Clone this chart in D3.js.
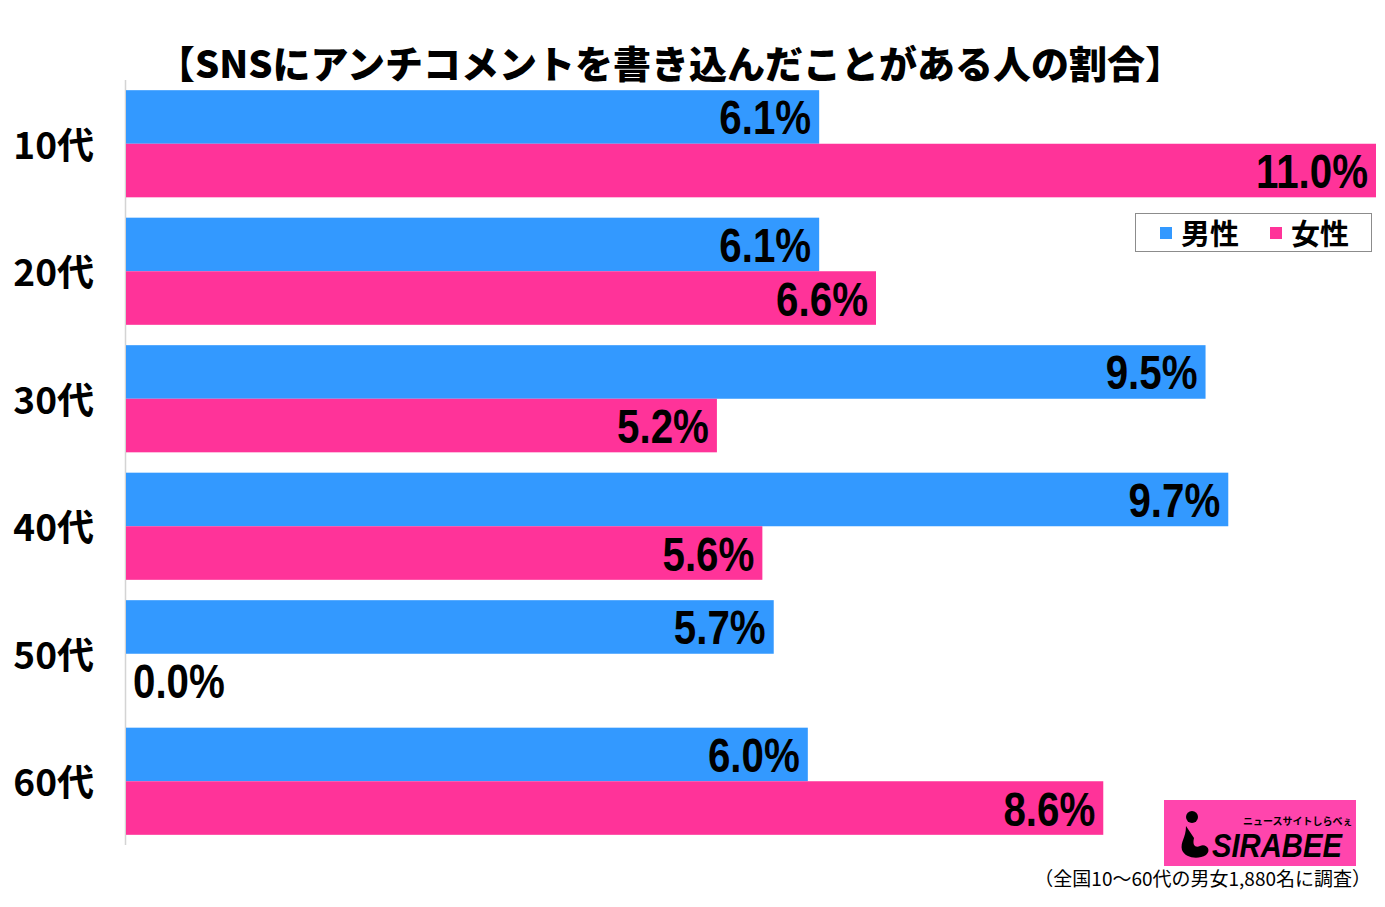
<!DOCTYPE html>
<html><head><meta charset="utf-8">
<script src="https://cdn.jsdelivr.net/npm/d3@7"></script>
<style>body{margin:0;background:#fff;}svg{display:block;}</style>
</head><body>
<script>
const categories = ["10代","20代","30代","40代","50代","60代"];
const seriesNames = ["男性","女性"];
const male = [6.1, 6.1, 9.5, 9.7, 5.7, 6.0];
const female = [11.0, 6.6, 5.2, 5.6, 0.0, 8.6];
const titleText = "【SNSにアンチコメントを書き込んだことがある人の割合】";
const noteText = "（全国10〜60代の男女1,880名に調査）";

const W = 1385, H = 907;
const colors = {"男性":"#3399ff","女性":"#ff3399"};
const svg = d3.select("body").append("svg").attr("width",W).attr("height",H);

const x = d3.scaleLinear().domain([0, 11]).range([126, 1376]);
const y = d3.scaleBand().domain(categories).range([80, 845]).padding(0);
const ys = d3.scaleBand().domain(seriesNames).range([0, y.bandwidth()]).paddingInner(0).paddingOuter(0.19);

const rows = [];
categories.forEach((c,i)=>{
  rows.push({cat:c, s:"男性", v:male[i]});
  rows.push({cat:c, s:"女性", v:female[i]});
});

// axis line
svg.append("line").attr("x1",125.5).attr("x2",125.5).attr("y1",80).attr("y2",845)
  .attr("stroke","#d4d4d4").attr("stroke-width",1.5);

svg.append("g").selectAll("rect").data(rows).join("rect")
  .attr("x", x(0))
  .attr("y", d=> y(d.cat)+ys(d.s))
  .attr("width", d=> x(d.v)-x(0))
  .attr("height", ys.bandwidth())
  .attr("fill", d=>colors[d.s]);

// value labels
const sx = 0.84;
svg.append("g").selectAll("text").data(rows).join("text")
  .attr("transform", d=>{
    const cy = y(d.cat)+ys(d.s)+ys.bandwidth()/2 + 17.5;
    const px = d.v>0 ? x(d.v)-8 : x(0)+7;
    return `translate(${px},${cy}) scale(${sx},1)`;
  })
  .attr("text-anchor", d=> d.v>0 ? "end":"start")
  .attr("font-family","Liberation Sans, Arial, sans-serif")
  .attr("font-size",48).attr("font-weight",700).attr("fill","#000")
  .text(d=> d.v.toFixed(1)+"%");

// category labels
svg.append("g").selectAll("text").data(categories).join("text")
  .attr("x", 94).attr("y", d=> y(d)+y.bandwidth()/2+15)
  .attr("text-anchor","end")
  .attr("font-family","Noto Sans CJK JP, sans-serif")
  .attr("font-size",37).attr("font-weight",700).attr("fill","#000")
  .text(d=>d);

// title
svg.append("text").attr("transform","translate(670,78)")
  .attr("text-anchor","middle")
  .attr("font-family","Noto Sans CJK JP, sans-serif")
  .attr("font-size",38).attr("font-weight",900).attr("fill","#000")
  .text(titleText);

// legend
const lg = svg.append("g");
lg.append("rect").attr("x",1135.5).attr("y",213.5).attr("width",236).attr("height",38)
  .attr("fill","#fff").attr("stroke","#8c8c8c").attr("stroke-width",1);
const lgX = [1160, 1270];
seriesNames.forEach((s,i)=>{
  lg.append("rect").attr("x",lgX[i]).attr("y",227).attr("width",12).attr("height",12).attr("fill",colors[s]);
  lg.append("text").attr("x",lgX[i]+21).attr("y",245)
    .attr("font-family","Noto Sans CJK JP, sans-serif")
    .attr("font-size",29).attr("font-weight",700).attr("fill","#000").text(s);
});

// logo
const logo = svg.append("g");
logo.append("rect").attr("x",1164).attr("y",800).attr("width",192).attr("height",66).attr("fill","#ff45ad");
logo.append("circle").attr("cx",1192).attr("cy",817).attr("r",6).attr("fill","#000");
logo.append("path").attr("d","M1186,826 C1186,838 1180,842 1182,850 C1185,858 1198,860 1206,855 C1212,850 1206,843 1200,846 C1196,848 1192,846 1194,838 Z").attr("fill","#000");
logo.append("text").attr("x",1243).attr("y",825)
  .attr("font-family","Noto Sans CJK JP, sans-serif").attr("font-size",10).attr("font-weight",700)
  .attr("fill","#000").text("ニュースサイトしらべぇ");
logo.append("text").attr("transform","translate(1212,857) scale(0.86,1)")
  .attr("font-family","Liberation Sans, Arial, sans-serif").attr("font-size",34).attr("font-weight",700)
  .attr("font-style","italic").attr("fill","#000").text("SIRABEE");

// footnote
svg.append("text").attr("x",1371).attr("y",886).attr("text-anchor","end")
  .attr("font-family","Noto Sans CJK JP, sans-serif").attr("font-size",19).attr("fill","#000")
  .text(noteText);
</script>
</body></html>
